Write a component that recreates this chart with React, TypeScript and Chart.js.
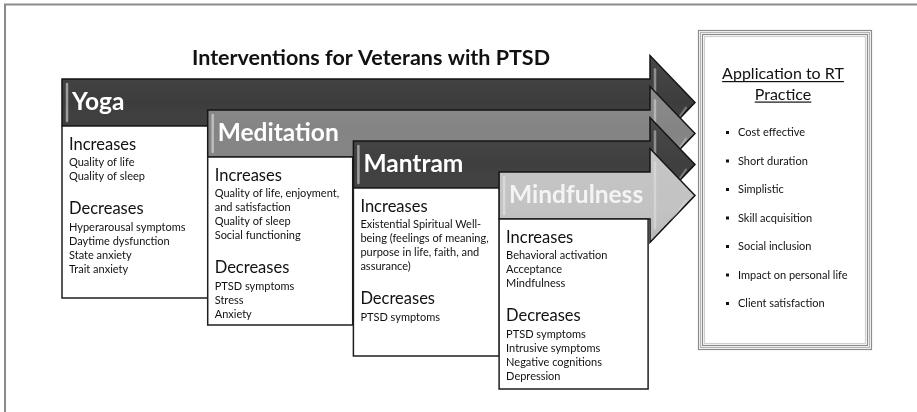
import React, { useEffect, useRef } from "react";
import { Chart, registerables } from "chart.js";
Chart.register(...registerables);

// ---------- content ----------
const chartTitle = "Interventions for Veterans with PTSD";
const interventions = ["Yoga", "Meditation", "Mantram", "Mindfulness"];
const increasesLabel = "Increases";
const decreasesLabel = "Decreases";
const yogaIncreases = ["Quality of life", "Quality of sleep"];
const yogaDecreases = ["Hyperarousal symptoms", "Daytime dysfunction", "State anxiety", "Trait anxiety"];
const meditationIncreases = ["Quality of life, enjoyment,", "and satisfaction", "Quality of sleep", "Social functioning"];
const meditationDecreases = ["PTSD symptoms", "Stress", "Anxiety"];
const mantramIncreases = ["Existential Spiritual Well-", "being (feelings of meaning,", "purpose in life, faith, and", "assurance)"];
const mantramDecreases = ["PTSD symptoms"];
const mindfulnessIncreases = ["Behavioral activation", "Acceptance", "Mindfulness"];
const mindfulnessDecreases = ["PTSD symptoms", "Intrusive symptoms", "Negative cognitions", "Depression"];
const applicationTitle = ["Application to RT", "Practice"];
const applicationItems = [
  "Cost effective",
  "Short duration",
  "Simplistic",
  "Skill acquisition",
  "Social inclusion",
  "Impact on personal life",
  "Client satisfaction",
];
const increasesLists = [yogaIncreases, meditationIncreases, mantramIncreases, mindfulnessIncreases];
const decreasesLists = [yogaDecreases, meditationDecreases, mantramDecreases, mindfulnessDecreases];

// ---------- layout / style (scale units = frame pixels) ----------
const FRAME_W = 917;
const FRAME_H = 412;
const LAYOUT = {
  colX0: 62,
  colStep: 145.7,
  laneY0: 79,
  laneStep: 31,
  bodyH: 47,
  headBaseX: 650,
  tipX: 695,
  headHalf: 47,
  boxBottoms: [298, 325, 356, 389],
  boxWidths: [146, 145, 146, 149],
  appBox: { x0: 698, y0: 30, x1: 872, y1: 350 },
};
const ARROW_FILLS = ["#3d3d3d", "#848484", "#3f3f3f", "#c3c3c3"];
const ARROW_TEXT = ["#ffffff", "#ffffff", "#ffffff", "#f4f4f4"];
const FONT = "Lato, 'Open Sans', sans-serif";

function drawArrow(ctx: CanvasRenderingContext2D, x0: number, yTop: number, fill: string) {
  const { bodyH, headBaseX, tipX, headHalf } = LAYOUT;
  const yc = yTop + bodyH / 2;
  ctx.save();
  ctx.beginPath();
  ctx.moveTo(x0, yTop);
  ctx.lineTo(headBaseX, yTop);
  ctx.lineTo(headBaseX, yc - headHalf);
  ctx.lineTo(tipX, yc);
  ctx.lineTo(headBaseX, yc + headHalf);
  ctx.lineTo(headBaseX, yTop + bodyH);
  ctx.lineTo(x0, yTop + bodyH);
  ctx.closePath();
  ctx.fillStyle = fill;
  ctx.fill();
  const g = ctx.createLinearGradient(0, yc - headHalf, 0, yc + headHalf);
  g.addColorStop(0, "rgba(255,255,255,0.06)");
  g.addColorStop(0.5, "rgba(255,255,255,0.0)");
  g.addColorStop(1, "rgba(0,0,0,0.08)");
  ctx.fillStyle = g;
  ctx.fill();
  ctx.lineWidth = 1.5;
  ctx.strokeStyle = "#151515";
  ctx.lineJoin = "miter";
  ctx.stroke();
  ctx.clip();
  ctx.lineCap = "round";
  ctx.strokeStyle = "rgba(235,235,235,0.55)";
  ctx.lineWidth = 2.5;
  ctx.beginPath();
  ctx.moveTo(x0 + 5, yTop + 5);
  ctx.lineTo(x0 + 5, yTop + bodyH - 5);
  ctx.stroke();
  ctx.strokeStyle = "rgba(235,235,235,0.45)";
  ctx.lineWidth = 2.5;
  ctx.beginPath();
  ctx.moveTo(headBaseX + 5, yc - headHalf + 14);
  ctx.lineTo(headBaseX + 5, yc + headHalf - 14);
  ctx.stroke();
  ctx.strokeStyle = "rgba(235,235,235,0.35)";
  ctx.lineWidth = 2;
  ctx.beginPath();
  ctx.moveTo(tipX - 9, yc + 5);
  ctx.lineTo(headBaseX + 22, yc + headHalf - 22);
  ctx.stroke();
  ctx.strokeStyle = "rgba(0,0,0,0.35)";
  ctx.lineWidth = 3;
  ctx.beginPath();
  ctx.moveTo(tipX - 2, yc + 3);
  ctx.lineTo(headBaseX + 2, yc + headHalf - 1);
  ctx.stroke();
  ctx.restore();
}

const diagramPlugin = {
  id: "diagram",
  afterDatasetsDraw(chart: any) {
    const ctx: CanvasRenderingContext2D = chart.ctx;
    const xs = chart.scales.x;
    const ys = chart.scales.y;
    const px = (v: number) => xs.getPixelForValue(v);
    const py = (v: number) => ys.getPixelForValue(v);
    const meta = chart.getDatasetMeta(0);
    ctx.save();
    ctx.strokeStyle = "#8a8a8a";
    ctx.lineWidth = 2;
    ctx.strokeRect(px(5), py(4.5), px(FRAME_W + 10) - px(5), py(FRAME_H + 10) - py(4.5));

    ctx.fillStyle = "#111";
    ctx.font = `bold 21.5px ${FONT}`;
    ctx.textAlign = "center";
    ctx.textBaseline = "middle";
    ctx.fillText(chartTitle, px(371), py(58));

    interventions.forEach((name, i) => {
      const el = meta.data[i];
      const x0 = el.x;
      const yTop = el.y;
      drawArrow(ctx, x0, yTop, ARROW_FILLS[i]);
      ctx.fillStyle = ARROW_TEXT[i];
      ctx.font = `bold 24.5px ${FONT}`;
      ctx.textAlign = "left";
      ctx.textBaseline = "middle";
      ctx.fillText(name, x0 + 10, yTop + LAYOUT.bodyH / 2);
      const bTop = yTop + LAYOUT.bodyH;
      const bBot = py(LAYOUT.boxBottoms[i]);
      const bw = px(LAYOUT.boxWidths[i]) - px(0);
      ctx.fillStyle = "#ffffff";
      ctx.fillRect(x0, bTop, bw, bBot - bTop);
      ctx.strokeStyle = "#1e1e1e";
      ctx.lineWidth = 1.5;
      ctx.strokeRect(x0, bTop, bw, bBot - bTop);
      const tx = x0 + 7;
      let y = bTop + 18.5;
      ctx.fillStyle = "#111";
      ctx.font = `16.5px ${FONT}`;
      ctx.fillText(increasesLabel, tx, y);
      y += 17.5;
      ctx.font = `11px ${FONT}`;
      increasesLists[i].forEach((t, k) => {
        ctx.fillText(t, tx, y + k * 14);
      });
      y += (increasesLists[i].length - 1) * 14 + 33;
      ctx.font = `16.5px ${FONT}`;
      ctx.fillText(decreasesLabel, tx, y);
      y += 18;
      ctx.font = `11px ${FONT}`;
      decreasesLists[i].forEach((t, k) => {
        ctx.fillText(t, tx, y + k * 14);
      });
    });

    const ab = LAYOUT.appBox;
    const ax0 = px(ab.x0), ay0 = py(ab.y0), ax1 = px(ab.x1), ay1 = py(ab.y1);
    ctx.fillStyle = "#fff";
    ctx.fillRect(ax0, ay0, ax1 - ax0, ay1 - ay0);
    const frameLines: [number, string][] = [
      [0.5, "#8c8c8c"],
      [2.5, "#b4b4b4"],
      [4.5, "#8c8c8c"],
      [6.5, "#d0d0d0"],
    ];
    frameLines.forEach(([o, c]) => {
      ctx.strokeStyle = c;
      ctx.lineWidth = 1.2;
      ctx.strokeRect(ax0 + o, ay0 + o, ax1 - ax0 - 2 * o, ay1 - ay0 - 2 * o);
    });
    const acx = (ax0 + ax1) / 2 - 2;
    ctx.fillStyle = "#111";
    ctx.font = `16px ${FONT}`;
    ctx.textAlign = "center";
    ctx.textBaseline = "alphabetic";
    applicationTitle.forEach((t, k) => {
      const by = py(79 + k * 20.5);
      ctx.fillText(t, acx, by);
      const w = ctx.measureText(t).width;
      ctx.fillRect(acx - w / 2, by + 2, w, 1.2);
    });
    ctx.textAlign = "left";
    ctx.textBaseline = "middle";
    ctx.font = `11px ${FONT}`;
    applicationItems.forEach((t, k) => {
      const y = py(132.5 + k * 28.5);
      ctx.fillRect(px(726), y - 1.5, 3, 3);
      ctx.fillText(t, px(738), y);
    });
    ctx.restore();
  },
};

export default function App() {
  const ref = useRef<HTMLCanvasElement | null>(null);
  useEffect(() => {
    if (!ref.current) return;
    const chart = new Chart(ref.current, {
      type: "scatter",
      data: {
        datasets: [
          {
            data: interventions.map((_, i) => ({
              x: LAYOUT.colX0 + i * LAYOUT.colStep,
              y: LAYOUT.laneY0 + i * LAYOUT.laneStep,
            })),
            pointRadius: 0,
            pointHoverRadius: 0,
          },
        ],
      },
      options: {
        animation: false,
        responsive: false,
        events: [],
        layout: { padding: 0 },
        scales: {
          x: { type: "linear", min: 0, max: FRAME_W, display: false },
          y: { type: "linear", min: 0, max: FRAME_H, reverse: true, display: false },
        },
        plugins: { legend: { display: false }, tooltip: { enabled: false }, title: { display: false } },
      },
      plugins: [diagramPlugin],
    });
    return () => chart.destroy();
  }, []);
  return (
    <div style={{ position: "fixed", left: 0, top: 0, width: FRAME_W, height: FRAME_H, background: "#fff" }}>
      <canvas ref={ref} width={FRAME_W} height={FRAME_H} />
    </div>
  );
}
